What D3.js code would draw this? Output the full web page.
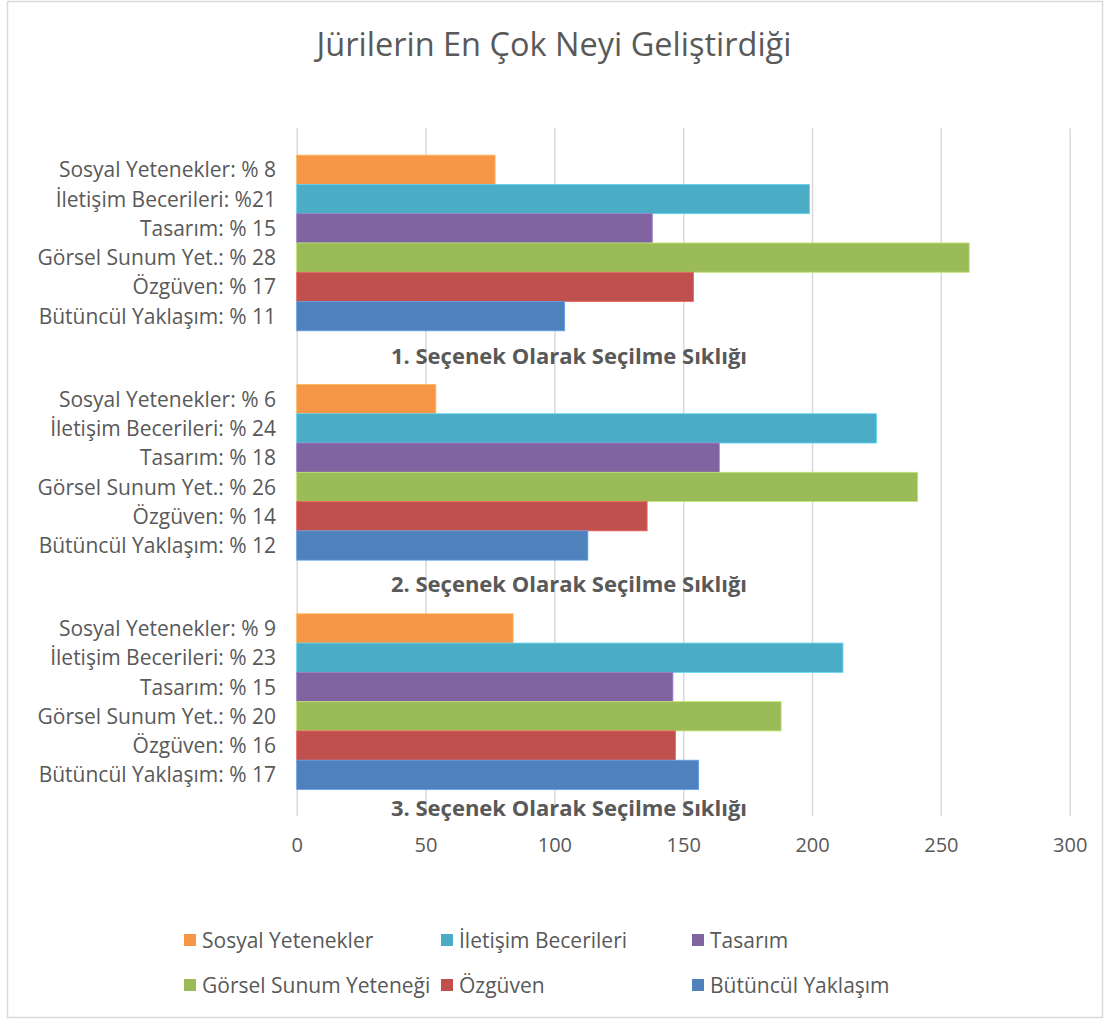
<!DOCTYPE html>
<html>
<head>
<meta charset="utf-8">
<script src="https://cdn.jsdelivr.net/npm/d3@7/dist/d3.min.js"></script>
<style>
  html, body { margin: 0; padding: 0; background: #fff; }
  svg text { font-family: "Open Sans", Lato, sans-serif; fill: #595959; }
</style>
</head>
<body>
<svg id="chart" width="1107" height="1023"></svg>
<script>
// Choice rounds (category groups, top to bottom)
const groups = [
  "1. Seçenek Olarak Seçilme Sıklığı",
  "2. Seçenek Olarak Seçilme Sıklığı",
  "3. Seçenek Olarak Seçilme Sıklığı"
];

// Series names as shown in the legend, and their short forms beside the bars
const seriesNames = ["Sosyal Yetenekler", "İletişim Becerileri", "Tasarım", "Görsel Sunum Yeteneği", "Özgüven", "Bütüncül Yaklaşım"];
const shortNames  = ["Sosyal Yetenekler", "İletişim Becerileri", "Tasarım", "Görsel Sunum Yet.", "Özgüven", "Bütüncül Yaklaşım"];
const seriesColors = ["#F79646", "#4BACC6", "#8064A2", "#9BBB59", "#C0504D", "#4F81BD"];

// Frequencies per series, one value per choice round
const sosyalYetenekler   = [77, 54, 84];
const iletisimBecerileri = [199, 225, 212];
const tasarim            = [138, 164, 146];
const gorselSunum        = [261, 241, 188];
const ozguven            = [154, 136, 147];
const butunculYaklasim   = [104, 113, 156];
const seriesValues = [sosyalYetenekler, iletisimBecerileri, tasarim, gorselSunum, ozguven, butunculYaklasim];

// Percentage shares printed next to each bar
const pct1 = ["% 8", "%21", "% 15", "% 28", "% 17", "% 11"];
const pct2 = ["% 6", "% 24", "% 18", "% 26", "% 14", "% 12"];
const pct3 = ["% 9", "% 23", "% 15", "% 20", "% 16", "% 17"];
const percentLabels = [pct1, pct2, pct3];

const xTicks = [0, 50, 100, 150, 200, 250, 300];

const svg = d3.select("#chart");

// chart frame
svg.append("rect")
  .attr("x", 7.5).attr("y", 1.5).attr("width", 1095).attr("height", 1016)
  .attr("fill", "#fff").attr("stroke", "#d9d9d9").attr("stroke-width", 1.5);

// title
svg.append("text")
  .attr("x", 554).attr("y", 56)
  .attr("text-anchor", "middle")
  .style("font-size", "32.5px")
  .text("Jürilerin En Çok Neyi Geliştirdiği");

const plot = { left: 296.7, right: 1069.7, top: 128.3, bottom: 816.3 };

const x = d3.scaleLinear().domain([0, 300]).range([plot.left, plot.right]);
const y0 = d3.scaleBand().domain(groups).range([plot.top, plot.bottom]).padding(0);
const y1 = d3.scaleBand().domain(d3.range(seriesNames.length))
  .range([0, y0.bandwidth()]).paddingInner(0).paddingOuter(0.916);

// vertical gridlines
const grid = svg.append("g")
  .attr("transform", `translate(0,${plot.bottom})`)
  .call(d3.axisTop(x).tickValues(xTicks).tickSize(plot.bottom - plot.top).tickFormat(""));
grid.select(".domain").remove();
grid.selectAll(".tick line").attr("stroke", "#d9d9d9").attr("stroke-width", 1.5);

// bars
const rows = [];
groups.forEach((g, gi) => {
  seriesNames.forEach((s, si) => {
    rows.push({ g, gi, si, value: seriesValues[si][gi],
      label: shortNames[si] + ": " + percentLabels[gi][si] });
  });
});

const gBars = svg.append("g");
gBars.selectAll("rect").data(rows).join("rect")
  .attr("x", x(0))
  .attr("y", d => y0(d.g) + y1(d.si))
  .attr("width", d => x(d.value) - x(0))
  .attr("height", y1.bandwidth())
  .attr("fill", d => seriesColors[d.si])
  .attr("stroke", d => d3.color(seriesColors[d.si]).brighter(0.6))
  .attr("stroke-width", 0.8);

// labels to the left of each bar
svg.append("g").selectAll("text").data(rows).join("text")
  .attr("x", 276)
  .attr("y", d => y0(d.g) + y1(d.si) + y1.bandwidth() / 2)
  .attr("dy", "0.36em")
  .attr("text-anchor", "end")
  .style("font-size", "21px")
  .text(d => d.label);

// group captions beneath each cluster
svg.append("g").selectAll("text").data(groups).join("text")
  .attr("x", 569)
  .attr("y", (g, i) => y0(g) + y1(seriesNames.length - 1) + y1.bandwidth() + [33, 32, 27][i])
  .attr("text-anchor", "middle")
  .style("font-size", "22px")
  .style("font-weight", "bold")
  .text(g => g);

// value axis labels
const xAxis = svg.append("g")
  .attr("transform", `translate(0,${plot.bottom})`)
  .call(d3.axisBottom(x).tickValues(xTicks).tickSize(0).tickPadding(22));
xAxis.select(".domain").remove();
xAxis.selectAll("text")
  .style("font-size", "20px")
  .style("font-family", "'Open Sans', Lato, sans-serif")
  .attr("fill", "#595959");

// legend
const legendX = [184, 441, 692];
const legendY = [940, 985];
const legend = svg.append("g").selectAll("g").data(seriesNames).join("g")
  .attr("transform", (d, i) => `translate(${legendX[i % 3]},${legendY[Math.floor(i / 3)]})`);
legend.append("rect")
  .attr("x", 0).attr("y", -6).attr("width", 12).attr("height", 12)
  .attr("fill", (d, i) => seriesColors[i]);
legend.append("text")
  .attr("x", 18).attr("y", 0).attr("dy", "0.36em")
  .style("font-size", "21px")
  .text(d => d);
</script>
</body>
</html>
